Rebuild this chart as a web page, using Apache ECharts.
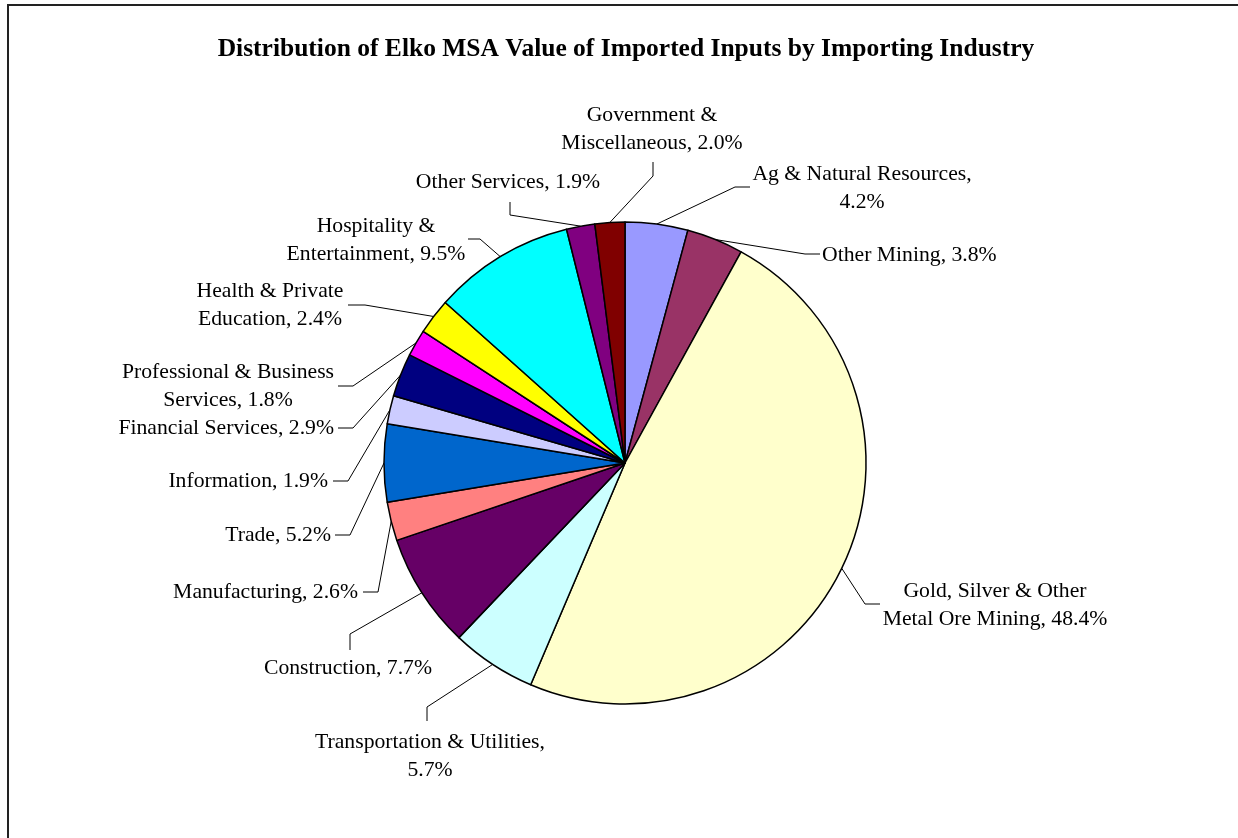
<!DOCTYPE html>
<html>
<head>
<meta charset="utf-8">
<title>Elko MSA Imported Inputs</title>
<script src="https://cdn.jsdelivr.net/npm/echarts@6/dist/echarts.min.js"></script>
<style>
    html, body { margin: 0; padding: 0; background: #ffffff; overflow: hidden; }
    #frame {
        position: absolute; left: 7px; top: 4px; width: 1300px; height: 900px;
        border: 2px solid #222222; box-sizing: border-box;
    }
    #chart { position: absolute; left: 0; top: 0; width: 1238px; height: 838px; }
</style>
</head>
<body>
<div id="frame"></div>
<div id="chart"></div>
<script>
// industries, clockwise from 12 o'clock
var industries = [
    'Ag & Natural Resources', 'Other Mining', 'Gold, Silver & Other Metal Ore Mining',
    'Transportation & Utilities', 'Construction', 'Manufacturing', 'Trade',
    'Information', 'Financial Services', 'Professional & Business Services',
    'Health & Private Education', 'Hospitality & Entertainment', 'Other Services',
    'Government & Miscellaneous'
];
// share of imported inputs, %
var shares = [4.2, 3.8, 48.4, 5.7, 7.7, 2.6, 5.2, 1.9, 2.9, 1.8, 2.4, 9.5, 1.9, 2.0];
// how the label text wraps (as in the original)
var labelText = [
    'Ag & Natural Resources,\n{v}', 'Other Mining, {v}', 'Gold, Silver & Other\nMetal Ore Mining, {v}',
    'Transportation & Utilities,\n{v}', 'Construction, {v}', 'Manufacturing, {v}', 'Trade, {v}',
    'Information, {v}', 'Financial Services, {v}', 'Professional & Business\nServices, {v}',
    'Health & Private\nEducation, {v}', 'Hospitality &\nEntertainment, {v}', 'Other Services, {v}',
    'Government &\nMiscellaneous, {v}'
];
var colors = ['#9999FF', '#993366', '#FFFFCC', '#CCFFFF', '#660066', '#FF8080', '#0066CC',
              '#CCCCFF', '#000080', '#FF00FF', '#FFFF00', '#00FFFF', '#800080', '#800000'];

var center = [625, 463];
var radius = 241;

// label anchor [x, y, align] and the leader elbow points
var labelPos = [
    [862, 188, 'center', [[735, 187], [750, 187]]],
    [822, 255, 'left',   [[805, 254], [820, 254]]],
    [995, 605, 'center', [[865, 604], [880, 604]]],
    [430, 756, 'center', [[427, 707], [427, 721]]],
    [348, 668, 'center', [[350, 634], [350, 650]]],
    [358, 592, 'right',  [[378, 592], [363, 592]]],
    [331, 535, 'right',  [[350, 535], [335, 535]]],
    [328, 481, 'right',  [[348, 481], [333, 481]]],
    [334, 428, 'right',  [[353, 428], [338, 428]]],
    [228, 386, 'center', [[353, 386], [338, 386]]],
    [270, 305, 'center', [[365, 305], [348, 305]]],
    [376, 240, 'center', [[480, 239], [468, 239]]],
    [508, 182, 'center', [[510, 215], [510, 202]]],
    [652, 129, 'center', [[653, 176], [653, 162]]]
];

var chart = echarts.init(document.getElementById('chart'), null, { renderer: 'canvas' });

var pieData = [];
for (var i = 0; i < industries.length; i++) {
    pieData.push({ name: industries[i], value: shares[i], itemStyle: { color: colors[i] } });
}

// mid angle of each slice on the rim, used if the library gives no points
var rimPoint = function (idx) {
    var before = 0;
    for (var k = 0; k < idx; k++) before += shares[k];
    var total = shares.reduce(function (a, b) { return a + b; }, 0);
    var ang = (before + shares[idx] / 2) / total * Math.PI * 2;
    return [center[0] + radius * Math.sin(ang), center[1] - radius * Math.cos(ang)];
};

var option = {
    animation: false,
    title: {
        text: 'Distribution of Elko MSA Value of Imported Inputs by Importing Industry',
        left: 621,
        textAlign: 'center',
        top: 31,
        textStyle: {
            fontFamily: '"Liberation Serif", "Times New Roman", serif',
            fontSize: 25.5,
            fontWeight: 'bold',
            color: '#000000'
        }
    },
    series: [{
        type: 'pie',
        center: center,
        radius: radius,
        startAngle: 90,
        clockwise: true,
        data: pieData,
        itemStyle: { borderColor: '#000000', borderWidth: 1.5 },
        emphasis: { disabled: true },
        label: {
            show: true,
            position: 'outside',
            fontFamily: '"Liberation Serif", "Times New Roman", serif',
            fontSize: 21.7,
            lineHeight: 28,
            color: '#000000',
            formatter: function (p) {
                return labelText[p.dataIndex].replace('{v}', shares[p.dataIndex].toFixed(1) + '%');
            }
        },
        labelLine: {
            show: true,
            length: 10,
            length2: 10,
            smooth: false,
            lineStyle: { color: '#000000', width: 1 }
        },
        labelLayout: function (params) {
            var i = params.dataIndex;
            var lp = labelPos[i];
            var start = (params.labelLinePoints && params.labelLinePoints[0]) || rimPoint(i);
            return {
                x: lp[0],
                y: lp[1],
                align: lp[2],
                verticalAlign: 'middle',
                labelLinePoints: [[start[0], start[1]], lp[3][0], lp[3][1]]
            };
        }
    }]
};
chart.setOption(option);
</script>
</body>
</html>
